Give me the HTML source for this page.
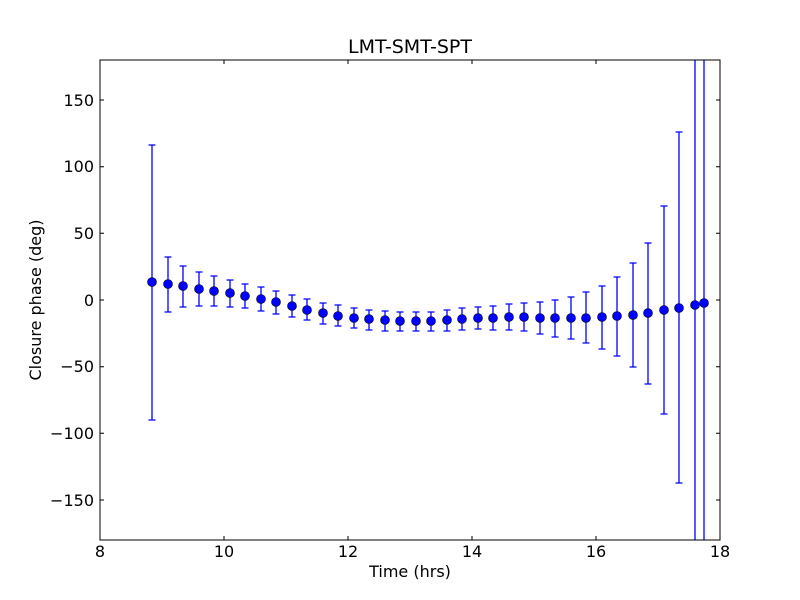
<!DOCTYPE html>
<html><head><meta charset="utf-8"><style>body{margin:0;background:#fff}svg{display:block}text{font-family:"DejaVu Sans","Liberation Sans",sans-serif;fill:#000}</style></head><body>
<svg width="800" height="600" viewBox="0 0 800 600" xmlns="http://www.w3.org/2000/svg">
<rect width="800" height="600" fill="#fff"/>
<g stroke="#0000ff" stroke-width="1.3" fill="none">
<path d="M152,145V420M148.5,145h7M148.5,420h7"/>
<path d="M168,257V312M164.5,257h7M164.5,312h7"/>
<path d="M183,266V307M179.5,266h7M179.5,307h7"/>
<path d="M199,272V306M195.5,272h7M195.5,306h7"/>
<path d="M214,276V306M210.5,276h7M210.5,306h7"/>
<path d="M230,280V307M226.5,280h7M226.5,307h7"/>
<path d="M245,284V308M241.5,284h7M241.5,308h7"/>
<path d="M261,287V311M257.5,287h7M257.5,311h7"/>
<path d="M276,291V314M272.5,291h7M272.5,314h7"/>
<path d="M292,295V317M288.5,295h7M288.5,317h7"/>
<path d="M307,299V320M303.5,299h7M303.5,320h7"/>
<path d="M323,303V324M319.5,303h7M319.5,324h7"/>
<path d="M338,305V326M334.5,305h7M334.5,326h7"/>
<path d="M354,308V328M350.5,308h7M350.5,328h7"/>
<path d="M369,310V330M365.5,310h7M365.5,330h7"/>
<path d="M385,311V331M381.5,311h7M381.5,331h7"/>
<path d="M400,312V331M396.5,312h7M396.5,331h7"/>
<path d="M416,312V331M412.5,312h7M412.5,331h7"/>
<path d="M431,312V331M427.5,312h7M427.5,331h7"/>
<path d="M447,310V331M443.5,310h7M443.5,331h7"/>
<path d="M462,308V330M458.5,308h7M458.5,330h7"/>
<path d="M478,307V329M474.5,307h7M474.5,329h7"/>
<path d="M493,306V330M489.5,306h7M489.5,330h7"/>
<path d="M509,304V330M505.5,304h7M505.5,330h7"/>
<path d="M524,303V331M520.5,303h7M520.5,331h7"/>
<path d="M540,302V334M536.5,302h7M536.5,334h7"/>
<path d="M555,300V337M551.5,300h7M551.5,337h7"/>
<path d="M571,297V339M567.5,297h7M567.5,339h7"/>
<path d="M586,292V343M582.5,292h7M582.5,343h7"/>
<path d="M602,286V349M598.5,286h7M598.5,349h7"/>
<path d="M617,277V356M613.5,277h7M613.5,356h7"/>
<path d="M633,263V367M629.5,263h7M629.5,367h7"/>
<path d="M648,243V384M644.5,243h7M644.5,384h7"/>
<path d="M664,206V414M660.5,206h7M660.5,414h7"/>
<path d="M679,132V483M675.5,132h7M675.5,483h7"/>
<path d="M695,60V540M704,60V540"/>
</g>
<g fill="#0000ff" stroke="#000" stroke-width="0.6">
<circle cx="152" cy="282" r="4.5"/><circle cx="168" cy="284" r="4.5"/><circle cx="183" cy="286" r="4.5"/><circle cx="199" cy="289" r="4.5"/><circle cx="214" cy="291" r="4.5"/><circle cx="230" cy="293" r="4.5"/><circle cx="245" cy="296" r="4.5"/><circle cx="261" cy="299" r="4.5"/><circle cx="276" cy="302" r="4.5"/><circle cx="292" cy="306" r="4.5"/><circle cx="307" cy="310" r="4.5"/><circle cx="323" cy="313" r="4.5"/><circle cx="338" cy="316" r="4.5"/><circle cx="354" cy="318" r="4.5"/><circle cx="369" cy="319" r="4.5"/><circle cx="385" cy="320" r="4.5"/><circle cx="400" cy="321" r="4.5"/><circle cx="416" cy="321" r="4.5"/><circle cx="431" cy="321" r="4.5"/><circle cx="447" cy="320" r="4.5"/><circle cx="462" cy="319" r="4.5"/><circle cx="478" cy="318" r="4.5"/><circle cx="493" cy="318" r="4.5"/><circle cx="509" cy="317" r="4.5"/><circle cx="524" cy="317" r="4.5"/><circle cx="540" cy="318" r="4.5"/><circle cx="555" cy="318" r="4.5"/><circle cx="571" cy="318" r="4.5"/><circle cx="586" cy="318" r="4.5"/><circle cx="602" cy="317" r="4.5"/><circle cx="617" cy="316" r="4.5"/><circle cx="633" cy="315" r="4.5"/><circle cx="648" cy="313" r="4.5"/><circle cx="664" cy="310" r="4.5"/><circle cx="679" cy="308" r="4.5"/><circle cx="695" cy="305" r="4.5"/><circle cx="704" cy="303" r="4.5"/>
</g>
<rect x="100" y="60" width="620" height="480" fill="none" stroke="#000" stroke-width="1"/>
<g stroke="#000" stroke-width="1">
<path d="M224,540v-4M348,540v-4M472,540v-4M596,540v-4M224,60v4M348,60v4M472,60v4M596,60v4"/>
<path d="M100,100h4M100,166.7h4M100,233.3h4M100,300h4M100,366.7h4M100,433.3h4M100,500h4"/>
<path d="M720,100h-4M720,166.7h-4M720,233.3h-4M720,300h-4M720,366.7h-4M720,433.3h-4M720,500h-4"/>
</g>
<g font-size="16" text-anchor="middle">
<text x="100" y="557">8</text><text x="224" y="557">10</text><text x="348" y="557">12</text><text x="472" y="557">14</text><text x="596" y="557">16</text><text x="720" y="557">18</text>
</g>
<g font-size="16" text-anchor="end">
<text x="94" y="106">150</text><text x="94" y="172">100</text><text x="94" y="239">50</text><text x="94" y="306">0</text><text x="94" y="372">−50</text><text x="94" y="439">−100</text><text x="94" y="506">−150</text>
</g>
<text x="410" y="577" font-size="16" text-anchor="middle">Time (hrs)</text>
<text transform="translate(41,300) rotate(-90)" font-size="16" text-anchor="middle">Closure phase (deg)</text>
<text x="410" y="53" font-size="19" text-anchor="middle">LMT-SMT-SPT</text>
</svg>
</body></html>
